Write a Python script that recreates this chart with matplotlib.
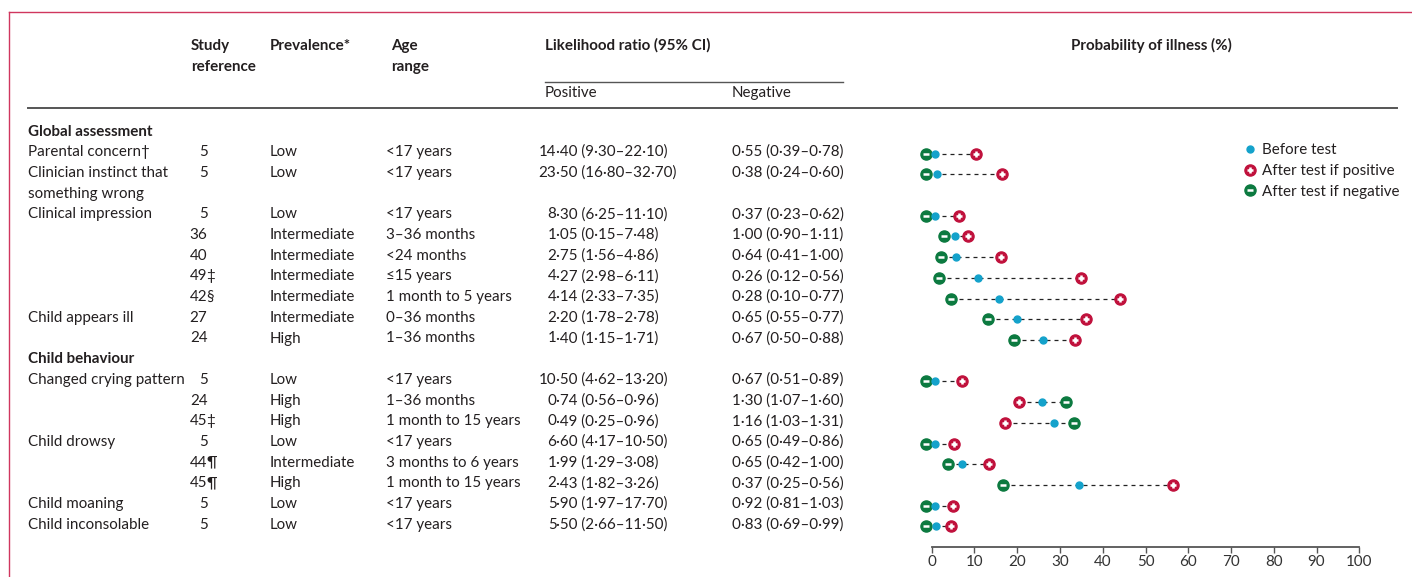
import matplotlib
matplotlib.use("Agg")
import matplotlib.pyplot as plt
from matplotlib.lines import Line2D

plt.rcParams['font.family'] = ['Lato', 'DejaVu Sans']

# ---- table content ----
groups = ["Global assessment", "Child behaviour"]
row_group = [0, 0, 0, 0, 0, 0, 0, 0, 0, 1, 1, 1, 1, 1, 1, 1, 1]
signs = ["Parental concern†", "Clinician instinct that\nsomething wrong",
         "Clinical impression", "", "", "", "", "Child appears ill", "",
         "Changed crying pattern", "", "", "Child drowsy", "", "",
         "Child moaning", "Child inconsolable"]
study_ref = ["5", "5", "5", "36", "40", "49‡", "42§", "27", "24",
             "5", "24", "45‡", "5", "44¶", "45¶", "5", "5"]
prevalence = ["Low", "Low", "Low", "Intermediate", "Intermediate", "Intermediate",
              "Intermediate", "Intermediate", "High", "Low", "High", "High", "Low",
              "Intermediate", "High", "Low", "Low"]
age_range = ["<17 years", "<17 years", "<17 years", "3–36 months", "<24 months",
             "≤15 years", "1 month to 5 years", "0–36 months", "1–36 months",
             "<17 years", "1–36 months", "1 month to 15 years", "<17 years",
             "3 months to 6 years", "1 month to 15 years", "<17 years", "<17 years"]
lr_positive = ["14·40 (9·30–22·10)", "23·50 (16·80–32·70)", "8·30 (6·25–11·10)",
               "1·05 (0·15–7·48)", "2·75 (1·56–4·86)", "4·27 (2·98–6·11)",
               "4·14 (2·33–7·35)", "2·20 (1·78–2·78)", "1·40 (1·15–1·71)",
               "10·50 (4·62–13·20)", "0·74 (0·56–0·96)", "0·49 (0·25–0·96)",
               "6·60 (4·17–10·50)", "1·99 (1·29–3·08)", "2·43 (1·82–3·26)",
               "5·90 (1·97–17·70)", "5·50 (2·66–11·50)"]
lr_negative = ["0·55 (0·39–0·78)", "0·38 (0·24–0·60)", "0·37 (0·23–0·62)",
               "1·00 (0·90–1·11)", "0·64 (0·41–1·00)", "0·26 (0·12–0·56)",
               "0·28 (0·10–0·77)", "0·65 (0·55–0·77)", "0·67 (0·50–0·88)",
               "0·67 (0·51–0·89)", "1·30 (1·07–1·60)", "1·16 (1·03–1·31)",
               "0·65 (0·49–0·86)", "0·65 (0·42–1·00)", "0·37 (0·25–0·56)",
               "0·92 (0·81–1·03)", "0·83 (0·69–0·99)"]

# probability of illness (%)
before_test = [0.8, 1.2, 0.85, 5.5, 5.6, 10.8, 15.7, 19.9, 26.0,
               0.8, 25.7, 28.6, 0.7, 7.0, 34.5, 0.8, 0.9]
after_positive = [10.4, 16.4, 6.5, 8.5, 16.1, 34.8, 44.1, 36.0, 33.4,
                  7.1, 20.4, 17.1, 5.1, 13.5, 56.4, 4.9, 4.6]
after_negative = [-1.4, -1.4, -1.4, 2.9, 2.1, 1.7, 4.5, 13.1, 19.3,
                  -1.4, 31.4, 33.3, -1.4, 3.8, 16.6, -1.4, -1.4]

x_ticks = [0, 10, 20, 30, 40, 50, 60, 70, 80, 90, 100]

# ---- style ----
TXT = '#231f20'
RULE = '#555555'
FRAME = '#d0365e'
BLUE = '#14a2cb'
RED = '#c0113c'
GREEN = '#0c7a40'
FS = 10.9
W, H = 1412, 577
LINE0 = 135.5      # baseline of first body line (px)
STEP = 20.7        # line spacing (px)

fig = plt.figure(figsize=(W / 100, H / 100), dpi=100)
tab = fig.add_axes([0, 0, 1, 1])
tab.set_xlim(0, W)
tab.set_ylim(H, 0)
tab.axis('off')

# frame and rules
tab.plot([9, W], [12, 12], color=FRAME, lw=1.0)
tab.plot([9, 9], [12, H], color=FRAME, lw=1.0)
tab.plot([28, 1397], [107.5, 107.5], color=RULE, lw=1.4)
tab.plot([545, 843], [82, 82], color=RULE, lw=1.0)


def put(x, y, s, **kw):
    kw.setdefault('color', TXT)
    kw.setdefault('fontsize', FS)
    kw.setdefault('va', 'baseline')
    tab.text(x, y, s, **kw)


# column headers
put(191, 50, "Study", fontweight='bold')
put(191, 70.7, "reference", fontweight='bold')
put(270, 50, "Prevalence*", fontweight='bold')
put(391, 50, "Age", fontweight='bold')
put(391, 70.7, "range", fontweight='bold')
put(545, 50, "Likelihood ratio (95% CI)", fontweight='bold')
put(1151, 50, "Probability of illness (%)", fontweight='bold', ha='center')
put(545, 97, "Positive")
put(732, 97, "Negative")

# body rows
row_line = []
line = 0
last_group = None
for i in range(len(signs)):
    g = row_group[i]
    if g != last_group:
        put(28, LINE0 + line * STEP, groups[g], fontweight='bold')
        line += 1
        last_group = g
    y = LINE0 + line * STEP
    row_line.append(line)
    parts = signs[i].split("\n") if signs[i] else []
    for k, p in enumerate(parts):
        put(28, y + k * STEP, p)
    num = study_ref[i].rstrip("†‡§¶")
    put(207.5, y, num, ha='right')
    if study_ref[i][len(num):]:
        put(206.5, y, study_ref[i][len(num):])
    put(270, y, prevalence[i])
    put(386, y, age_range[i])
    whole, rest = lr_positive[i].split("·", 1)
    put(556.5, y, whole, ha='right')
    put(556.5, y, "·" + rest)
    put(732, y, lr_negative[i])
    line += max(len(parts), 1)

# ---- dot plot ----
x0_px, x1_px = 931.7, 1359.3
top_px, bot_px = 118, 547
mark_off = 2.5
ax = fig.add_axes([x0_px / W, 1 - bot_px / H, (x1_px - x0_px) / W, (bot_px - top_px) / H])
ax.patch.set_alpha(0)
ax.set_xlim(0, 100)
ax.set_ylim((bot_px - LINE0 + mark_off) / STEP, (top_px - LINE0 + mark_off) / STEP)
for s in ['top', 'right', 'left']:
    ax.spines[s].set_visible(False)
ax.spines['bottom'].set_color(RULE)
ax.spines['bottom'].set_linewidth(1.3)
ax.set_yticks([])
ax.set_xticks(x_ticks)
ax.tick_params(axis='x', direction='out', length=4, width=1.0, color=RULE,
               labelsize=FS, labelcolor='#333333', pad=2)

lo = [min(a, b, c) for a, b, c in zip(before_test, after_positive, after_negative)]
hi = [max(a, b, c) for a, b, c in zip(before_test, after_positive, after_negative)]
ax.hlines(row_line, lo, hi, colors='#222222', linewidth=0.9,
          linestyles=(0, (3.2, 3.2)), zorder=1)
ax.plot(after_negative, row_line, 'o', color=GREEN, ms=8, ls='', zorder=3, clip_on=False)
ax.plot(after_negative, row_line, '_', color='white', ms=4.5, mew=1.8, ls='', zorder=4, clip_on=False)
ax.plot(after_positive, row_line, 'o', color=RED, ms=8, ls='', zorder=3, clip_on=False)
ax.plot(after_positive, row_line, '+', color='white', ms=4.5, mew=1.8, ls='', zorder=4, clip_on=False)
ax.plot(before_test, row_line, 'o', color=BLUE, ms=5, ls='', zorder=5, clip_on=False)

# legend
h_before = Line2D([], [], marker='o', color=BLUE, ms=5, ls='')
h_pos = (Line2D([], [], marker='o', color=RED, ms=8, ls=''),
         Line2D([], [], marker='+', color='white', ms=4.5, mew=1.8, ls=''))
h_neg = (Line2D([], [], marker='o', color=GREEN, ms=8, ls=''),
         Line2D([], [], marker='_', color='white', ms=4.5, mew=1.8, ls=''))
leg = ax.legend([h_before, h_pos, h_neg],
                ["Before test", "After test if positive", "After test if negative"],
                loc='upper left', bbox_to_anchor=(1242 / W, 1 - 143 / H),
                bbox_transform=fig.transFigure, frameon=False, fontsize=FS,
                handlelength=1.0, handletextpad=0.3, labelspacing=0.45,
                borderpad=0, borderaxespad=0)
for t in leg.get_texts():
    t.set_color(TXT)

fig.savefig("out.png", dpi=100)
